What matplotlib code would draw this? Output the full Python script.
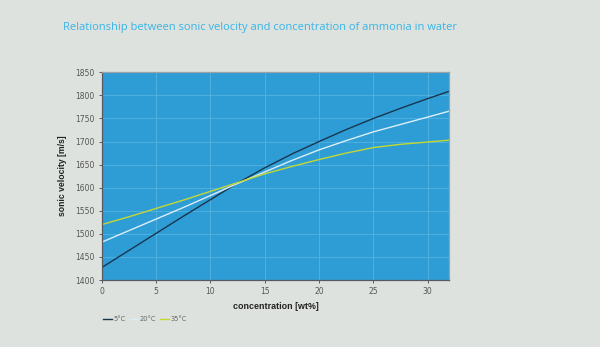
import matplotlib
matplotlib.use("Agg")
import matplotlib.pyplot as plt

# concentration of ammonia [wt%]
concentration = [0, 2.5, 5, 7.5, 10, 12.5, 15, 17.5, 20, 22.5, 25, 27.5, 30, 32]
# sonic velocity [m/s] per temperature
v_5c = [1427, 1464, 1501, 1538, 1574, 1610, 1643, 1673, 1700, 1726, 1750, 1772, 1793, 1809]
v_20c = [1482, 1507, 1532, 1557, 1583, 1609, 1634, 1659, 1682, 1702, 1721, 1737, 1753, 1766]
v_35c = [1520, 1537, 1555, 1573, 1592, 1611, 1630, 1646, 1661, 1675, 1687, 1694, 1699, 1703]
series_labels = ["5°C", "20°C", "35°C"]
x_ticks = [0, 5, 10, 15, 20, 25, 30]
y_ticks = list(range(1400, 1851, 50))

fig_bg = "#dde2de"
ax_bg = "#2e9dd6"

fig = plt.figure(figsize=(6.0, 3.47), dpi=100, facecolor=fig_bg)
ax = fig.add_axes([0.1695, 0.193, 0.5795, 0.5986], facecolor=ax_bg)

ax.plot(concentration, v_5c, color="#17364f", lw=1.0, label=series_labels[0])
ax.plot(concentration, v_20c, color="#dbeef8", lw=1.0, label=series_labels[1])
ax.plot(concentration, v_35c, color="#c4d832", lw=1.0, label=series_labels[2])

ax.set_xlim(0, 32)
ax.set_ylim(1400, 1850)
ax.set_xticks(x_ticks)
ax.set_yticks(y_ticks)
ax.grid(True, color="#55b2e0", lw=0.6)
ax.set_axisbelow(True)

for side in ("left", "bottom"):
    ax.spines[side].set_color("#555b60")
    ax.spines[side].set_linewidth(0.9)
for side in ("top", "right"):
    ax.spines[side].set_color("#9aa2a6")
    ax.spines[side].set_linewidth(0.9)

ax.tick_params(axis="both", labelsize=5.5, labelcolor="#555555", color="#555b60",
               length=2.5, width=0.7, pad=2.5)

ax.set_xlabel("concentration [wt%]", fontsize=6.4, family="Liberation Sans",
              fontweight="bold", color="#222222", labelpad=4)
ax.set_ylabel("sonic velocity [m/s]", fontsize=6.2, family="Liberation Sans",
              fontweight="bold", color="#222222", labelpad=6)

fig.text(0.105, 0.922, "Relationship between sonic velocity and concentration of ammonia in water",
         fontsize=8.0, family="Open Sans", color="#39b4e6", ha="left", va="center")

leg = fig.legend(loc="center left", bbox_to_anchor=(0.168, 0.081), ncol=3,
                 frameon=False, fontsize=4.8, handlelength=1.3, handletextpad=0.2,
                 columnspacing=0.6, borderaxespad=0)
for t in leg.get_texts():
    t.set_color("#666666")

fig.savefig("out.png", dpi=100, facecolor=fig_bg)
